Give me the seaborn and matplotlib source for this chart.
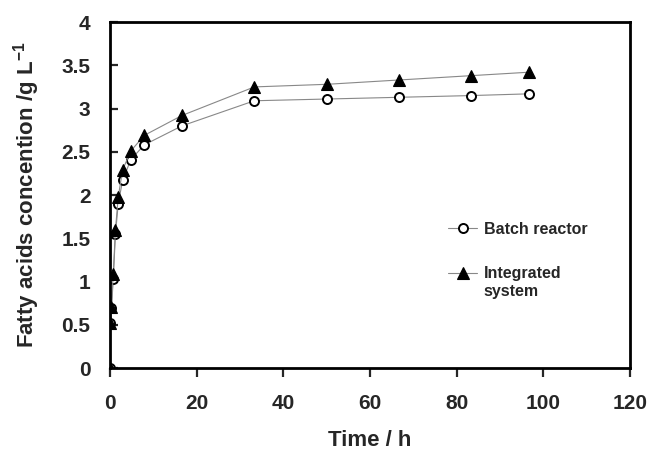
import numpy as np
import pandas as pd
import matplotlib
matplotlib.use("Agg")
import matplotlib.pyplot as plt
import seaborn as sns

# values
time_h = [0, 0.1, 0.33, 0.75, 1.25, 1.9, 2.9, 4.8, 7.9, 16.6, 33.3, 50, 66.7, 83.3, 96.7]
batch = [0, 0.52, 0.69, 1.03, 1.55, 1.90, 2.17, 2.41, 2.58, 2.80, 3.09, 3.11, 3.13, 3.15, 3.17]
integrated = [0, 0.52, 0.71, 1.09, 1.60, 1.98, 2.29, 2.51, 2.69, 2.92, 3.25, 3.28, 3.33, 3.38, 3.42]

sns.set_style("ticks")
plt.rcParams['font.family'] = ['Liberation Sans', 'DejaVu Sans']
plt.rcParams['font.weight'] = 'bold'
plt.rcParams['mathtext.fontset'] = 'custom'
plt.rcParams['mathtext.rm'] = 'Liberation Sans:bold'
plt.rcParams['mathtext.bf'] = 'Liberation Sans:bold'

df = pd.DataFrame({"Time": time_h, "Batch": batch, "Integrated": integrated})

fig = plt.figure(figsize=(6.51, 4.49), dpi=100)
ax = fig.add_axes([0.169, 0.180, 0.799, 0.771])

sns.lineplot(data=df, x="Time", y="Batch", ax=ax, color="#888888", linewidth=0.8,
             marker="o", markersize=6.5, markerfacecolor="white", markeredgecolor="black",
             markeredgewidth=1.4, label="Batch reactor")
sns.lineplot(data=df, x="Time", y="Integrated", ax=ax, color="#888888", linewidth=0.8,
             marker="^", markersize=8, markerfacecolor="black", markeredgecolor="black",
             markeredgewidth=0.8, label="Integrated")

ax.set_xlim(0, 120)
ax.set_ylim(0, 4)
ax.set_xticks(np.arange(0, 121, 20))
ax.set_yticks(np.arange(0, 4.01, 0.5))
ax.set_yticklabels(["0", "0.5", "1", "1.5", "2", "2.5", "3", "3.5", "4"])

for s in ax.spines.values():
    s.set_linewidth(2)
    s.set_color("black")
ax.tick_params(axis="y", direction="in", length=6, width=1.6, labelsize=15, pad=14)
ax.tick_params(axis="x", direction="out", length=6.5, width=1.6, labelsize=15, pad=12)
for lab in ax.get_xticklabels() + ax.get_yticklabels():
    lab.set_fontweight("bold")

ax.set_xlabel("Time / h", fontsize=16, fontweight="bold", labelpad=12)
ax.set_ylabel(r"Fatty acids concention /g L$^{-1}$", fontsize=16, fontweight="bold", labelpad=14)

leg = ax.legend(loc="upper left", bbox_to_anchor=(0.623, 0.465), frameon=False,
                prop={"weight": "bold", "size": 11.5}, handlelength=1.8,
                handletextpad=0.4, labelspacing=1.85)

# second line of the "Integrated system" label sits under the first one
fig.canvas.draw()
t = leg.get_texts()[1]
bb = t.get_window_extent().transformed(fig.transFigure.inverted())
fig.text(bb.x0, bb.y0 - 0.006, "system", ha="left", va="top",
         fontsize=11.5, fontweight="bold")

fig.savefig("out.png", dpi=100)
